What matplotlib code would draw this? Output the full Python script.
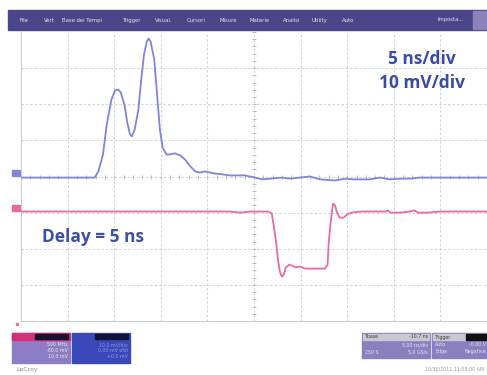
import numpy as np
import matplotlib.pyplot as plt
from matplotlib.patches import Rectangle

# time in ns, amplitude in mV (screen units, 5 ns/div, 10 mV/div)
t_c2 = [-25.0, -20.8, -17.1, -16.7, -16.2, -15.8, -15.3, -14.9, -14.6, -14.3,
        -13.9, -13.6, -13.3, -13.1, -12.8, -12.4, -12.1, -11.8, -11.5, -11.3,
        -11.1, -10.7, -10.4, -10.1, -9.8, -9.4, -9.0, -8.5, -7.9, -7.4,
        -6.9, -6.3, -5.8, -5.3, -4.7, -4.2, -3.4, -2.6, -1.0, 0.1,
        0.9, 1.7, 3.0, 3.9, 4.9, 6.0, 7.1, 8.7, 9.8, 10.8,
        12.4, 13.5, 14.6, 15.7, 16.7, 17.8, 20.0, 25.0]
v_c2 = [-0.3, -0.3, -0.3, 1.4, 6.1, 14.4, 21.3, 23.8, 24.1, 23.3,
        19.9, 15.0, 11.6, 11.1, 13.0, 18.6, 26.9, 33.8, 37.4, 38.2,
        37.4, 32.4, 22.7, 13.0, 8.0, 6.1, 6.1, 6.4, 5.8, 4.7,
        3.0, 1.4, 1.1, 1.4, 1.1, 0.8, 0.6, 0.3, 0.3, -0.3,
        -0.8, -0.6, -0.3, -0.6, -0.3, 0.0, -0.8, -1.1, -0.6, -0.8,
        -0.8, -0.3, -0.8, -0.6, -0.6, -0.3, -0.3, -0.3]

t_c1 = [-25.0, -11.2, -2.6, -1.5, -0.4, 1.5, 1.9, 2.1, 2.4, 2.6,
        2.8, 3.0, 3.2, 3.4, 3.8, 4.1, 4.5, 4.9, 5.5, 6.5,
        7.6, 7.9, 8.0, 8.2, 8.4, 8.5, 8.7, 8.9, 9.2, 9.6,
        10.0, 10.5, 11.4, 14.1, 14.4, 14.6, 15.7, 16.7, 17.2, 17.6,
        18.7, 20.0, 25.0]
v_c1 = [-9.7, -9.7, -9.7, -10.0, -9.7, -9.7, -10.2, -13.3, -18.8, -23.5,
        -26.6, -27.7, -27.1, -25.2, -24.4, -24.7, -25.2, -24.9, -25.5, -25.5,
        -25.5, -24.4, -18.8, -13.3, -9.1, -7.5, -8.0, -10.0, -11.4, -11.4,
        -10.5, -10.0, -9.7, -9.7, -9.4, -10.0, -10.0, -9.7, -9.4, -10.0,
        -10.0, -9.7, -9.7]

menu_items = ["File", "Vert", "Base dei Tempi", "Trigger", "Visual.", "Cursori",
              "Misure", "Materie", "Analisi", "Utility", "Auto"]
menu_x = [20, 44, 62, 123, 155, 187, 219, 250, 283, 312, 342]

W, H = 487, 375
fig = plt.figure(figsize=(W / 100, H / 100), dpi=100)
fig.patch.set_facecolor("white")

# decoration layer in pixel coordinates
ui = fig.add_axes([0, 0, 1, 1])
ui.set_xlim(0, W)
ui.set_ylim(H, 0)
ui.axis("off")

ui.add_patch(Rectangle((8, 10), W - 8, 20, color="#4d4589"))
for name, x in zip(menu_items, menu_x):
    ui.text(x, 20.5, name, color="#e6e2f2", fontsize=3.8, va="center", ha="left")
ui.text(438, 20, "Imposta...", color="#e6e2f2", fontsize=3.8, va="center")
ui.add_patch(Rectangle((473, 11), 14, 18, color="#8a82b8"))

# scope graticule
x0, x1, y0, y1 = 21, 487, 32, 321
ax = fig.add_axes([x0 / W, 1 - y1 / H, (x1 - x0) / W, (y1 - y0) / H])
ax.set_xlim(-25, 25)
ax.set_ylim(-40, 40)
for s in ax.spines.values():
    s.set_visible(False)
ax.spines["left"].set_visible(True)
ax.spines["bottom"].set_visible(True)
ax.spines["left"].set_color("#c8ccd4")
ax.spines["bottom"].set_color("#c8ccd4")
ax.set_xticks([])
ax.set_yticks([])

grid_kw = dict(color="#cdd3d9", lw=0.8, ls=(0, (2, 2)), zorder=1)
for gx in np.arange(-20, 25, 5):
    ax.axvline(gx, **grid_kw)
for gy in np.arange(-30, 40, 10):
    ax.axhline(gy, **grid_kw)
# centre axes with minor ticks
ax.plot(np.arange(-25, 25.01, 1), np.zeros(51), "|", color="#b8bec6", ms=3, mew=0.7)
ax.plot(np.zeros(41), np.arange(-40, 40.01, 2), "_", color="#b8bec6", ms=3, mew=0.7)

ax.plot(t_c2, v_c2, color="#8084da", lw=1.3, zorder=3)
ax.plot(t_c1, v_c1, color="#e56ba2", lw=1.3, zorder=3)

ax.text(18.0, 32.5, "5 ns/div", color="#3b4aa8", fontsize=12.5, fontweight="bold",
        family="Open Sans", ha="center", va="center")
ax.text(18.0, 26.0, "10 mV/div", color="#3b4aa8", fontsize=12.5, fontweight="bold",
        family="Open Sans", ha="center", va="center")
ax.text(-17.3, -16.7, "Delay = 5 ns", color="#3d50aa", fontsize=12.5, fontweight="bold",
        family="Open Sans", ha="center", va="center")

# channel markers at the left edge
ui.add_patch(Rectangle((12, 170), 8, 6, color="#8084da"))
ui.add_patch(Rectangle((12, 205), 8, 6, color="#e56ba2"))
ui.plot(17, 324, "o", color="#e56ba2", ms=1.5)

# channel info boxes
ui.add_patch(Rectangle((12, 333), 58, 30, color="#8d7dc2"))
ui.add_patch(Rectangle((12, 333), 58, 7, color="#d3307c"))
ui.add_patch(Rectangle((35, 334), 33, 5, color="#1a1030"))
for i, s in enumerate(["500 MHz", "-80.0 mV", "10.0 mV"]):
    ui.text(68, 345 + 6 * i, s, color="#e8e4f4", fontsize=3.4, ha="right", va="center")

ui.add_patch(Rectangle((72, 333), 58, 30, color="#3b49b8"))
ui.add_patch(Rectangle((95, 334), 33, 5, color="#10123a"))
for i, s in enumerate(["10.0 mV/div", "0.00 mV ofst", "+0.0 mV"]):
    ui.text(128, 345 + 6 * i, s, color="#8c96e0", fontsize=3.4, ha="right", va="center")

ui.add_patch(Rectangle((362, 333), 68, 25, color="#8a80c0"))
ui.add_patch(Rectangle((363, 334), 66, 6, color="#c8c8d2"))
ui.text(365, 337, "Tbase", color="#404040", fontsize=3.4, va="center")
ui.text(428, 337, "-10.7 ns", color="#404040", fontsize=3.4, va="center", ha="right")
ui.text(428, 345, "5.00 ns/div", color="#e8e4f4", fontsize=3.4, va="center", ha="right")
ui.text(365, 352, "250 S", color="#e8e4f4", fontsize=3.4, va="center")
ui.text(428, 352, "5.0 GS/s", color="#e8e4f4", fontsize=3.4, va="center", ha="right")

ui.add_patch(Rectangle((432, 333), 55, 25, color="#8a80c0"))
ui.add_patch(Rectangle((433, 334), 54, 6, color="#c8c8d2"))
ui.add_patch(Rectangle((466, 334), 21, 6, color="#111111"))
ui.text(435, 337, "Trigger", color="#404040", fontsize=3.4, va="center")
ui.text(435, 345, "Auto", color="#e8e4f4", fontsize=3.4, va="center")
ui.text(435, 352, "Edge", color="#e8e4f4", fontsize=3.4, va="center")
ui.text(486, 345, "-0.00 V", color="#e8e4f4", fontsize=3.4, va="center", ha="right")
ui.text(486, 352, "Negative", color="#e8e4f4", fontsize=3.4, va="center", ha="right")

ui.text(16, 369, "LeCroy", color="#8a8a8a", fontsize=4.5, va="center")
ui.text(484, 369, "10/30/2011 11:08:00 AM", color="#9a9a9a", fontsize=3.4,
        va="center", ha="right")

fig.savefig("out.png", dpi=100)
